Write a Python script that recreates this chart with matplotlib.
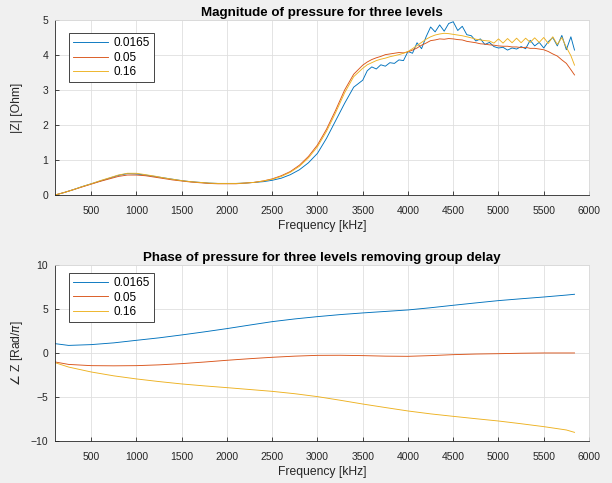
import matplotlib
matplotlib.use("Agg")
import matplotlib.pyplot as plt

# frequency grids (kHz)
freq_mag = list(range(100, 3501, 100)) + list(range(3550, 5801, 50)) + [5840]
freq_phase = [100] + list(range(250, 5751, 250)) + [5840]

labels = ['0.0165', '0.05', '0.16']

# |Z| [Ohm]
mag_0165 = [0.00, 0.07, 0.15, 0.24, 0.32, 0.40, 0.48, 0.56, 0.61, 0.60,
            0.57, 0.53, 0.49, 0.45, 0.41, 0.38, 0.36, 0.34, 0.33, 0.33,
            0.33, 0.34, 0.36, 0.38, 0.42, 0.48, 0.58, 0.72, 0.92, 1.19,
            1.62, 2.12, 2.62, 3.08, 3.28,
            3.55, 3.66, 3.60, 3.72, 3.68, 3.78, 3.76, 3.86, 3.84,
            4.10, 4.05, 4.35, 4.18, 4.52, 4.80, 4.66, 4.86, 4.68, 4.90,
            4.95, 4.70, 4.82, 4.58, 4.55, 4.40, 4.46, 4.30, 4.36, 4.24,
            4.20, 4.22, 4.14, 4.20, 4.17, 4.24, 4.18, 4.42, 4.26, 4.36,
            4.20, 4.38, 4.50, 4.26, 4.56, 4.15, 4.52, 4.14]
mag_05 = [0.00, 0.07, 0.15, 0.23, 0.31, 0.39, 0.46, 0.53, 0.57, 0.57,
          0.55, 0.51, 0.47, 0.43, 0.40, 0.37, 0.35, 0.33, 0.32, 0.32,
          0.32, 0.34, 0.36, 0.40, 0.46, 0.55, 0.67, 0.85, 1.10, 1.43,
          1.88, 2.42, 3.00, 3.45, 3.71,
          3.80, 3.87, 3.92, 3.96, 4.01, 4.03, 4.05, 4.07, 4.06,
          4.09, 4.14, 4.20, 4.28, 4.34, 4.41, 4.43, 4.46, 4.45, 4.47,
          4.46, 4.44, 4.43, 4.39, 4.37, 4.35, 4.32, 4.31, 4.29, 4.28,
          4.26, 4.25, 4.25, 4.23, 4.23, 4.21, 4.22, 4.19, 4.19, 4.17,
          4.15, 4.10, 4.03, 3.97, 3.86, 3.76, 3.58, 3.43]
mag_16 = [0.00, 0.07, 0.15, 0.24, 0.32, 0.41, 0.49, 0.57, 0.62, 0.62,
          0.58, 0.54, 0.49, 0.45, 0.41, 0.38, 0.36, 0.34, 0.33, 0.33,
          0.33, 0.34, 0.36, 0.40, 0.45, 0.53, 0.65, 0.82, 1.06, 1.38,
          1.82, 2.35, 2.92, 3.38, 3.62,
          3.72, 3.78, 3.84, 3.88, 3.91, 3.95, 3.98, 4.01, 4.05,
          4.10, 4.18, 4.27, 4.36, 4.45, 4.52, 4.57, 4.60, 4.62, 4.61,
          4.59, 4.57, 4.55, 4.52, 4.49, 4.45, 4.43, 4.41, 4.40, 4.34,
          4.46, 4.34, 4.47, 4.35, 4.48, 4.35, 4.48, 4.36, 4.49, 4.36,
          4.50, 4.33, 4.52, 4.30, 4.50, 4.22, 3.98, 3.71]

# phase [Rad/pi]
ph_0165 = [1.06, 0.86, 0.95, 1.15, 1.44, 1.72, 2.05, 2.40, 2.77, 3.17,
           3.56, 3.87, 4.13, 4.36, 4.55, 4.72, 4.89, 5.14, 5.42, 5.69,
           5.95, 6.16, 6.36, 6.58, 6.67]
ph_05 = [-1.02, -1.30, -1.44, -1.46, -1.44, -1.35, -1.21, -1.03, -0.83, -0.65,
         -0.49, -0.36, -0.27, -0.26, -0.30, -0.36, -0.38, -0.30, -0.19, -0.12,
         -0.08, -0.03, 0.00, 0.00, 0.00]
ph_16 = [-1.10, -1.60, -2.16, -2.60, -2.95, -3.25, -3.52, -3.74, -3.94, -4.15,
         -4.36, -4.63, -4.96, -5.37, -5.80, -6.20, -6.59, -6.92, -7.20, -7.47,
         -7.73, -8.04, -8.37, -8.75, -9.02]

colors = ['#0072BD', '#D95319', '#EDB120']
xticks = list(range(500, 6001, 500))

plt.rcParams['font.family'] = ['Liberation Sans', 'DejaVu Sans']
plt.rcParams['font.size'] = 8

fig = plt.figure(figsize=(6.12, 4.83), dpi=100, facecolor='#f0f0f0')
ax1 = fig.add_axes([0.0899, 0.5963, 0.8725, 0.3623])
ax2 = fig.add_axes([0.0899, 0.0870, 0.8725, 0.3644])


def style(ax):
    ax.set_facecolor('white')
    ax.set_xlim(100, 6000)
    ax.set_xticks(xticks)
    ax.grid(True, color='#dfdfdf', linewidth=0.6)
    ax.set_axisbelow(True)
    for s in ['top', 'right']:
        ax.spines[s].set_color('#d9d9d9')
        ax.spines[s].set_linewidth(0.6)
    for s in ['left', 'bottom']:
        ax.spines[s].set_color('#262626')
        ax.spines[s].set_linewidth(0.6)
    ax.tick_params(direction='in', length=3, width=0.6, colors='#262626',
                   labelsize=7.5, top=False, right=False)
    ax.tick_params(axis='x', pad=8)
    ax.tick_params(axis='y', pad=5)
    ax.set_xlabel('Frequency [kHz]', fontsize=8.7, color='#262626', labelpad=3)


def add_legend(ax, anchor):
    leg = ax.legend(loc='upper left', bbox_to_anchor=anchor, borderaxespad=0,
                    fancybox=False, framealpha=1, edgecolor='#262626',
                    handlelength=3.0, handletextpad=0.4, labelspacing=0.22,
                    borderpad=0.35, fontsize=8.5)
    leg.get_frame().set_linewidth(0.6)


for y, c, lab in zip([mag_0165, mag_05, mag_16], colors, labels):
    ax1.plot(freq_mag, y, color=c, linewidth=0.65, label=lab)
style(ax1)
ax1.set_ylim(0, 5)
ax1.set_yticks([0, 1, 2, 3, 4, 5])
ax1.set_ylabel('|Z| [Ohm]', fontsize=8.7, color='#262626', labelpad=14)
ax1.set_title('Magnitude of pressure for three levels', fontsize=9.6,
              fontweight='bold', pad=3)
add_legend(ax1, (0.026, 0.926))

for y, c, lab in zip([ph_0165, ph_05, ph_16], colors, labels):
    ax2.plot(freq_phase, y, color=c, linewidth=0.65, label=lab)
style(ax2)
ax2.set_ylim(-10, 10)
ax2.set_yticks([-10, -5, 0, 5, 10])
ax2.set_ylabel(r'$\angle$ Z [Rad/$\pi$]', fontsize=8.7, color='#262626',
               labelpad=4)
ax2.set_title('Phase of pressure for three levels removing group delay',
              fontsize=9.6, fontweight='bold', pad=3)
add_legend(ax2, (0.026, 0.955))

fig.savefig('out.png', dpi=100, facecolor=fig.get_facecolor())
